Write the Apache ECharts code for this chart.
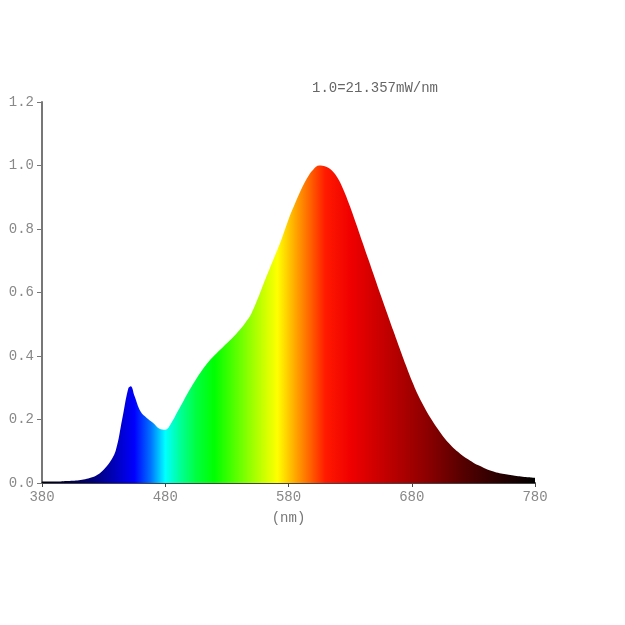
<!DOCTYPE html>
<html>
<head>
<meta charset="utf-8">
<script src="https://cdn.jsdelivr.net/npm/echarts@6/dist/echarts.min.js"></script>
<style>html,body{margin:0;padding:0;background:#fff}#c{width:625px;height:625px}</style>
</head>
<body>
<div id="c"></div>
<script>
var wavelengths = [380,385,390,395,400,405,410,415,420,425,430,435,440,445,450,452,455,460,465,470,475,480,485,490,495,500,505,510,515,520,525,530,535,540,545,550,555,560,565,570,575,580,585,590,595,600,605,610,615,620,625,630,635,640,645,650,655,660,665,670,675,680,685,690,695,700,705,710,715,720,725,730,735,740,745,750,755,760,765,770,775,780];
var intensity = [0.005,0.005,0.005,0.005,0.006,0.007,0.009,0.012,0.017,0.026,0.042,0.065,0.105,0.20,0.298,0.305,0.275,0.225,0.205,0.19,0.172,0.168,0.19,0.225,0.26,0.295,0.327,0.356,0.381,0.402,0.421,0.44,0.459,0.48,0.505,0.535,0.58,0.63,0.678,0.725,0.775,0.83,0.878,0.922,0.96,0.987,1.0,0.997,0.985,0.96,0.92,0.87,0.815,0.758,0.702,0.646,0.59,0.535,0.48,0.426,0.373,0.323,0.278,0.24,0.206,0.176,0.149,0.126,0.106,0.09,0.076,0.064,0.054,0.045,0.038,0.032,0.028,0.025,0.022,0.02,0.018,0.016];
var xTicks = [380,480,580,680,780];
var yTicks = [0.0,0.2,0.4,0.6,0.8,1.0,1.2];
var noteText = '1.0=21.357mW/nm';
var xName = '(nm)';

var spectrumStops = [
  [380,'#000010'],[420,'#000070'],[440,'#0000c0'],[455,'#0000ff'],[468,'#0070ff'],
  [480,'#00ffff'],[492,'#00ff99'],[505,'#00ff40'],[520,'#00ff00'],[545,'#80ff00'],
  [560,'#ccff00'],[571,'#ffff00'],[588,'#ff9900'],[610,'#ff1a00'],[630,'#f00000'],
  [660,'#c00000'],[690,'#900000'],[720,'#580000'],[750,'#2a0000'],[780,'#000000']
];

var data = wavelengths.map(function(w,i){return [w, intensity[i]];});
var font = '"Liberation Mono","DejaVu Sans Mono",monospace';
var chart = echarts.init(document.getElementById('c'));
chart.setOption({
  animation:false,
  backgroundColor:'#fff',
  grid:{left:42,right:90,top:102,bottom:142},
  graphic:[{type:'text',left:312,top:81,style:{text:noteText,font:'14px '+font,fill:'#666'}}],
  xAxis:{type:'value',min:380,max:780,interval:100,
    name:xName,nameLocation:'middle',nameGap:28,
    nameTextStyle:{fontFamily:font,fontSize:14,color:'#777'},
    axisLine:{lineStyle:{color:'#444',width:2}},
    axisTick:{show:true,length:4,lineStyle:{color:'#444'}},
    axisLabel:{fontFamily:font,fontSize:14,color:'#888',margin:7,
      formatter:function(v){return xTicks.indexOf(v)>=0?String(v):'';}},
    splitLine:{show:false}},
  yAxis:{type:'value',min:0,max:1.2,interval:0.2,
    axisLine:{show:true,lineStyle:{color:'#777',width:2}},
    axisTick:{show:true,length:5,lineStyle:{color:'#777'}},
    axisLabel:{fontFamily:font,fontSize:14,color:'#888',margin:8,
      formatter:function(v){var t=yTicks.find(function(y){return Math.abs(y-v)<1e-6;});return t===undefined?'':t.toFixed(1);}},
    splitLine:{show:false}},
  series:[{type:'line',data:data,smooth:0.4,symbol:'none',
    lineStyle:{width:0},
    areaStyle:{opacity:1,color:new echarts.graphic.LinearGradient(0,0,1,0,
      spectrumStops.map(function(s){return {offset:(s[0]-380)/400,color:s[1]};}))}}]
});
</script>
</body>
</html>
